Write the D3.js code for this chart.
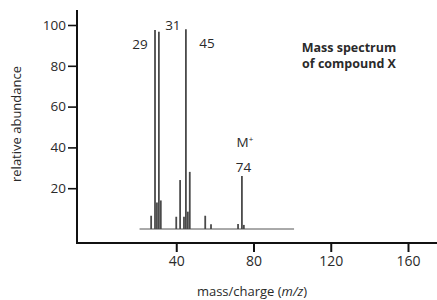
<!DOCTYPE html>
<html>
<head>
<meta charset="utf-8">
<script src="https://cdn.jsdelivr.net/npm/d3@7"></script>
<style>
  body { margin: 0; background: #fff; }
  svg text { font-family: "Open Sans", sans-serif; fill: #2a2a2a; }
</style>
</head>
<body>
<svg id="chart" width="437" height="300"></svg>
<script>
// peaks (m/z, relative abundance)
var mz        = [27, 29, 30, 31, 32, 40, 42, 44, 45, 46, 47, 55, 58, 72, 74, 75];
var abundance = [6.5, 97.5, 13, 96.7, 14, 6, 24, 6, 97.9, 8.5, 28, 6.5, 2.3, 2.5, 26, 2];

var xTicks = [40, 80, 120, 160];
var yTicks = [20, 40, 60, 80, 100];

// labelled peaks
var peakLabels = ['29', '31', '45', '74'];
var peakLabelMz = [29, 31, 45, 74];

var baselineRange = [21, 101];

var svg = d3.select('#chart');

var x = d3.scaleLinear().domain([0, 160]).range([99, 408]);
var y = d3.scaleLinear().domain([0, 100]).range([229, 25]);

var axisX = 77, axisY = 243;

// axis frame
svg.append('line')
  .attr('x1', axisX).attr('x2', axisX)
  .attr('y1', 10).attr('y2', axisY + 1)
  .attr('stroke', '#111').attr('stroke-width', 2);

svg.append('line')
  .attr('x1', axisX - 1).attr('x2', 437)
  .attr('y1', axisY).attr('y2', axisY)
  .attr('stroke', '#111').attr('stroke-width', 2);

// x axis ticks (drawn by d3.axisBottom, domain path removed)
var gx = svg.append('g')
  .attr('transform', 'translate(0,' + axisY + ')')
  .call(d3.axisBottom(x).tickValues(xTicks).tickSize(9).tickPadding(4));
gx.select('.domain').remove();
gx.selectAll('line').attr('stroke', '#111').attr('stroke-width', 2);
gx.selectAll('text')
  .style('font-family', '"Open Sans", sans-serif')
  .style('font-size', '14px')
  .attr('fill', '#2a2a2a');

// y axis ticks
var gy = svg.append('g')
  .attr('transform', 'translate(' + axisX + ',0)')
  .call(d3.axisLeft(y).tickValues(yTicks).tickSize(9).tickPadding(2));
gy.select('.domain').remove();
gy.selectAll('line').attr('stroke', '#111').attr('stroke-width', 1.6);
gy.selectAll('text')
  .style('font-family', '"Open Sans", sans-serif')
  .style('font-size', '13.5px')
  .attr('fill', '#2a2a2a');

// spectrum baseline
svg.append('line')
  .attr('x1', x(baselineRange[0])).attr('x2', x(baselineRange[1]))
  .attr('y1', y(0)).attr('y2', y(0))
  .attr('stroke', '#555').attr('stroke-width', 1);

// peaks
svg.append('g').selectAll('line')
  .data(mz)
  .join('line')
  .attr('x1', function(d) { return x(d); })
  .attr('x2', function(d) { return x(d); })
  .attr('y1', y(0))
  .attr('y2', function(d, i) { return y(abundance[i]); })
  .attr('stroke', '#4a4a4a')
  .attr('stroke-width', 1.8);

// peak labels
var labelOffsets = [[-15, 19], [14, -2], [21, 19], [1.5, -4]];
peakLabels.forEach(function(t, i) {
  var m = peakLabelMz[i];
  var h = abundance[mz.indexOf(m)];
  svg.append('text')
    .attr('x', x(m) + labelOffsets[i][0])
    .attr('y', y(h) + labelOffsets[i][1])
    .attr('text-anchor', 'middle')
    .style('font-size', '13.5px')
    .text(t);
});

// molecular ion label
var mText = svg.append('text')
  .attr('x', x(74) + 3)
  .attr('y', y(26) - 29)
  .attr('text-anchor', 'middle')
  .style('font-size', '13.5px')
  .text('M');
mText.append('tspan')
  .attr('dy', -5)
  .style('font-size', '8px')
  .text('+');

// title
svg.append('text')
  .attr('x', 349).attr('y', 52)
  .attr('text-anchor', 'middle')
  .style('font-size', '12.5px')
  .style('font-weight', 'bold')
  .text('Mass spectrum');
svg.append('text')
  .attr('x', 349).attr('y', 68)
  .attr('text-anchor', 'middle')
  .style('font-size', '12.5px')
  .style('font-weight', 'bold')
  .text('of compound X');

// axis titles
svg.append('text')
  .attr('transform', 'translate(21,124) rotate(-90)')
  .attr('text-anchor', 'middle')
  .style('font-size', '13px')
  .text('relative abundance');

var xl = svg.append('text')
  .attr('x', 252).attr('y', 296)
  .attr('text-anchor', 'middle')
  .style('font-size', '13px');
xl.append('tspan').text('mass/charge (');
xl.append('tspan').style('font-style', 'italic').text('m/z');
xl.append('tspan').text(')');
</script>
</body>
</html>
